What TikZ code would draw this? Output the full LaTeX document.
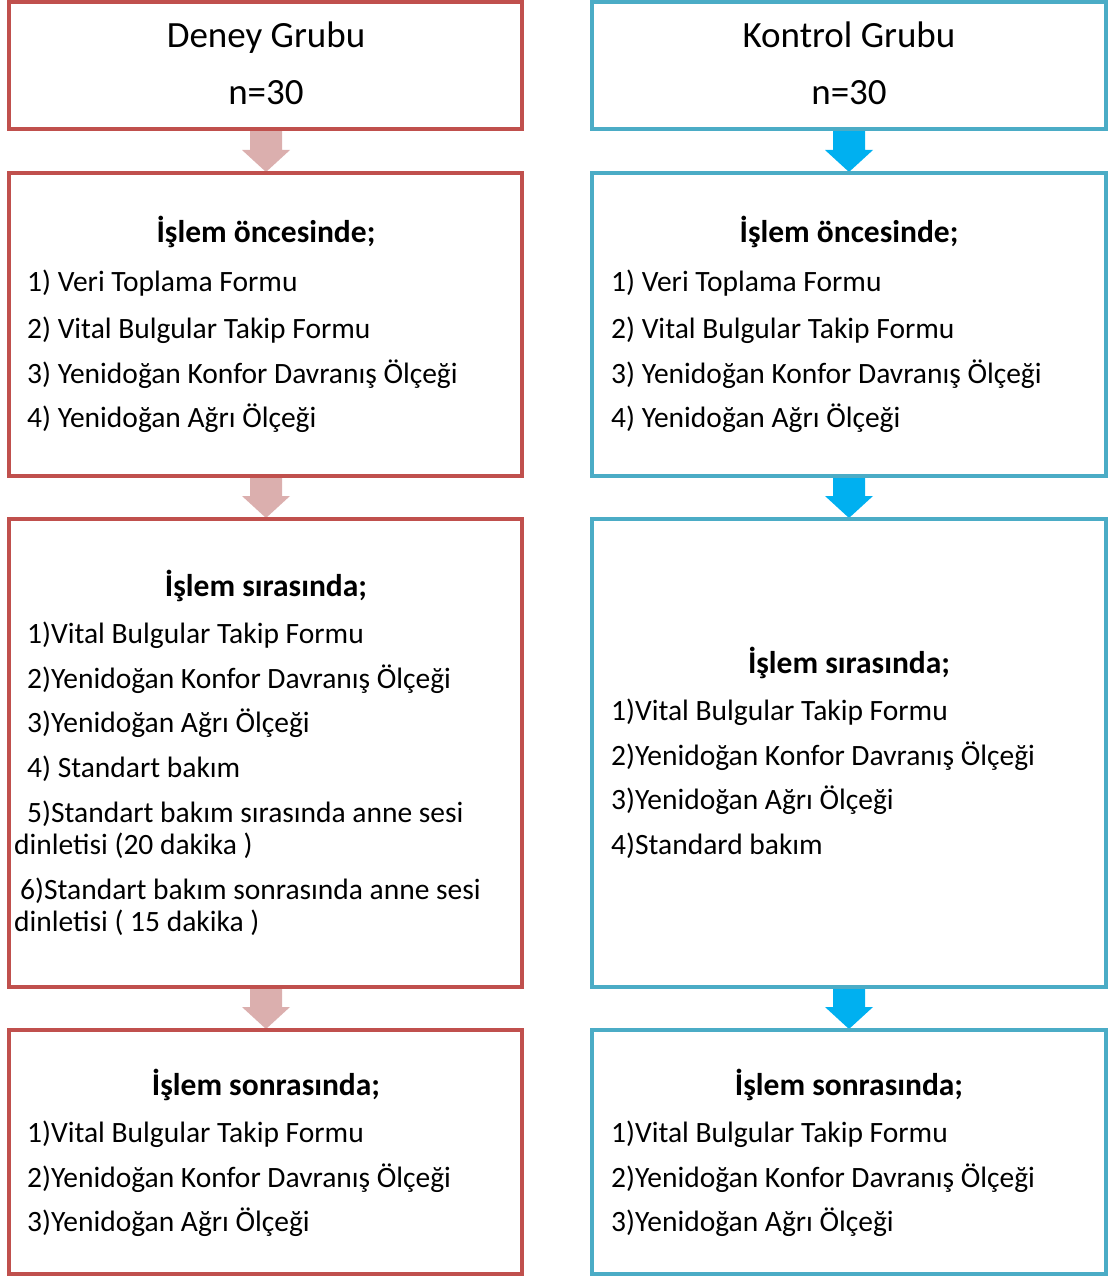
\documentclass[tikz,border=0pt]{standalone}
\usepackage{fontspec}
\setmainfont{Carlito}
\definecolor{redb}{HTML}{C0504D}
\definecolor{blueb}{HTML}{4BACC6}
\definecolor{pinka}{HTML}{DBAFAE}
\definecolor{bluea}{HTML}{00B0F0}
\tikzset{
  boxL/.style={draw=redb, line width=4pt, inner sep=0pt, outer sep=0pt},
  boxR/.style={draw=blueb, line width=4pt, inner sep=0pt, outer sep=0pt},
  txt/.style={anchor=base west, inner sep=0pt, font=\fontsize{29.5}{33}\selectfont},
  head/.style={anchor=base, inner sep=0pt, font=\fontsize{31.5}{35}\selectfont\bfseries},
  ttl/.style={anchor=base, inner sep=0pt, font=\fontsize{37}{41}\selectfont},
}
\newcommand{\blockarrow}[3]{% x, ytop, color
  \fill[#3] (#1-16,#2) -- (#1+16,#2) -- (#1+16,#2+22) -- (#1+24,#2+22) -- (#1,#2+44) -- (#1-24,#2+22) -- (#1-16,#2+22) -- cycle;}
\newcommand{\mkbox}[6]{% name, style, x1, y1, x2, y2
  \node[#2, minimum width={#5-#3}, minimum height={#6-#4}] (#1) at ({(#3+#5)/2},{(#4+#6)/2}) {};}
\begin{document}
\begin{tikzpicture}[x=1pt,y=-1pt]
\useasboundingbox (0,0) rectangle (1111,1276);
% arrows (drawn first so box borders overlap)
\blockarrow{266}{128}{pinka}
\blockarrow{266}{474}{pinka}
\blockarrow{266}{985}{pinka}
\blockarrow{849}{128}{bluea}
\blockarrow{849}{474}{bluea}
\blockarrow{849}{985}{bluea}
% boxes
\mkbox{L1}{boxL}{9}{2}{522}{129}
\mkbox{L2}{boxL}{9}{173}{522}{476}
\mkbox{L3}{boxL}{9}{519}{522}{987}
\mkbox{L4}{boxL}{9}{1030}{522}{1274}
\mkbox{R1}{boxR}{592}{2}{1106}{129}
\mkbox{R2}{boxR}{592}{173}{1106}{476}
\mkbox{R3}{boxR}{592}{519}{1106}{987}
\mkbox{R4}{boxR}{592}{1030}{1106}{1274}
% row 1
\node[ttl] (t1) at (266,48) {Deney Grubu};
\node[ttl] (t2) at (266,105) {n=30};
\node[ttl] (t3) at (849,48) {Kontrol Grubu};
\node[ttl] (t4) at (849,105) {n=30};
% row 2
\foreach \cx/\lx/\s in {266/27/a, 849/611/b}{
  \node[head] (h2\s) at (\cx,242) {İşlem öncesinde;};
  \node[txt] (i21\s) at (\lx,291) {1) Veri Toplama Formu};
  \node[txt] (i22\s) at (\lx,338) {2) Vital Bulgular Takip Formu};
  \node[txt] (i23\s) at (\lx,383) {3) Yenidoğan Konfor Davranış Ölçeği};
  \node[txt] (i24\s) at (\lx,427) {4) Yenidoğan Ağrı Ölçeği};
}
% row 3 left
\node[head] (h3a) at (266,596) {İşlem sırasında;};
\node[txt] (i31a) at (27,643) {1)Vital Bulgular Takip Formu};
\node[txt] (i32a) at (27,688) {2)Yenidoğan Konfor Davranış Ölçeği};
\node[txt] (i33a) at (27,732) {3)Yenidoğan Ağrı Ölçeği};
\node[txt] (i34a) at (27,777) {4) Standart bakım};
\node[txt] (i35a) at (27,822) {5)Standart bakım sırasında anne sesi};
\node[txt] (i35b) at (14,854) {dinletisi (20 dakika )};
\node[txt] (i36a) at (20,899) {6)Standart bakım sonrasında anne sesi};
\node[txt] (i36b) at (14,931) {dinletisi ( 15 dakika )};
% row 3 right
\node[head] (h3b) at (849,673) {İşlem sırasında;};
\node[txt] (i31b) at (611,720) {1)Vital Bulgular Takip Formu};
\node[txt] (i32b) at (611,765) {2)Yenidoğan Konfor Davranış Ölçeği};
\node[txt] (i33b) at (611,809) {3)Yenidoğan Ağrı Ölçeği};
\node[txt] (i34b) at (611,854) {4)Standard bakım};
% row 4
\foreach \cx/\lx/\s in {266/27/a, 849/611/b}{
  \node[head] (h4\s) at (\cx,1095) {İşlem sonrasında;};
  \node[txt] (i41\s) at (\lx,1142) {1)Vital Bulgular Takip Formu};
  \node[txt] (i42\s) at (\lx,1187) {2)Yenidoğan Konfor Davranış Ölçeği};
  \node[txt] (i43\s) at (\lx,1231) {3)Yenidoğan Ağrı Ölçeği};
}
\end{tikzpicture}
\end{document}
